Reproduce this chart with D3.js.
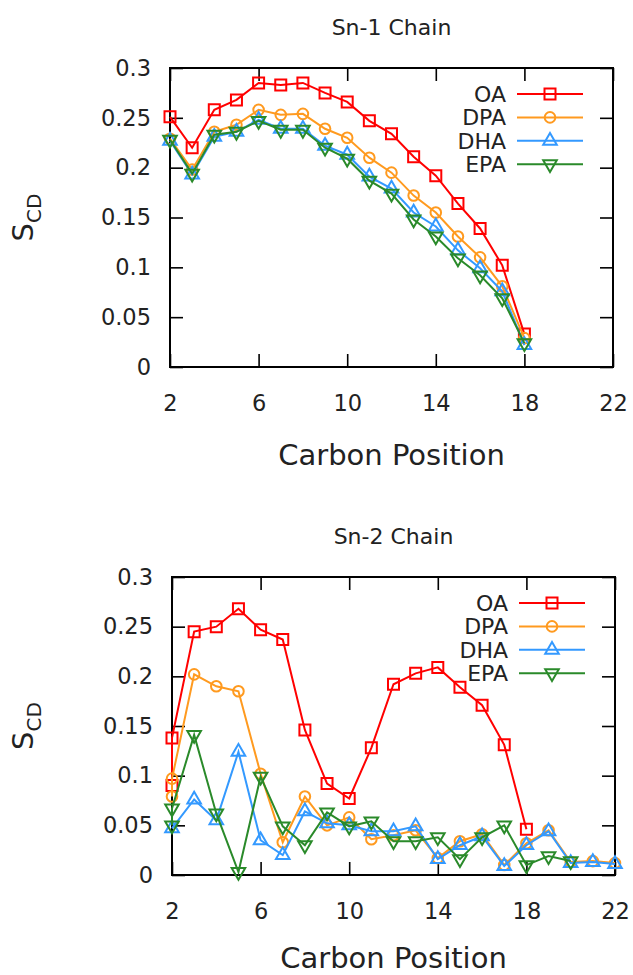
<!DOCTYPE html>
<html>
<head>
<meta charset="utf-8">
<script src="https://cdnjs.cloudflare.com/ajax/libs/d3/7.8.5/d3.min.js"></script>
<style>
body { margin: 0; background: #fff; }
svg text { font-family: "DejaVu Sans", sans-serif; fill: #222; }
</style>
</head>
<body>
<svg width="633" height="975"></svg>
<script>
var xTicks = [2, 6, 10, 14, 18, 22];
var yTicks = [0, 0.05, 0.1, 0.15, 0.2, 0.25, 0.3];
var names = ["OA", "DPA", "DHA", "EPA"];
var colors = ["#ff0000", "#ff9a1f", "#3399ff", "#2a8a2a"];
var shapes = ["square", "circle", "up", "down"];

// Sn-1 chain
var sn1X = [2, 3, 4, 5, 6, 7, 8, 9, 10, 11, 12, 13, 14, 15, 16, 17, 18];
var sn1OA  = [0.251, 0.220, 0.258, 0.268, 0.285, 0.283, 0.285, 0.275, 0.266, 0.247, 0.234, 0.211, 0.192, 0.164, 0.139, 0.102, 0.033];
var sn1DPA = [0.229, 0.198, 0.236, 0.243, 0.258, 0.253, 0.254, 0.239, 0.230, 0.210, 0.195, 0.172, 0.155, 0.131, 0.110, 0.081, 0.029];
var sn1DHA = [0.227, 0.193, 0.231, 0.236, 0.248, 0.239, 0.239, 0.222, 0.213, 0.191, 0.179, 0.155, 0.141, 0.117, 0.099, 0.076, 0.022];
var sn1EPA = [0.228, 0.194, 0.233, 0.236, 0.247, 0.238, 0.238, 0.220, 0.209, 0.187, 0.174, 0.148, 0.131, 0.109, 0.092, 0.069, 0.024];

// Sn-2 chain (carbon 2 has two hydrogens for some series)
var sn2OAx  = [2, 2, 3, 4, 5, 6, 7, 8, 9, 10, 11, 12, 13, 14, 15, 16, 17, 18];
var sn2OA   = [0.090, 0.138, 0.245, 0.250, 0.268, 0.247, 0.237, 0.146, 0.092, 0.077, 0.128, 0.192, 0.203, 0.209, 0.189, 0.171, 0.131, 0.046];
var sn2DPAx = [2, 2, 3, 4, 5, 6, 7, 8, 9, 10, 11, 12, 13, 14, 15, 16, 17, 18, 19, 20, 21, 22];
var sn2DPA  = [0.079, 0.097, 0.202, 0.190, 0.185, 0.102, 0.033, 0.079, 0.050, 0.058, 0.036, 0.040, 0.045, 0.017, 0.034, 0.041, 0.010, 0.032, 0.045, 0.013, 0.014, 0.012];
var sn2DHAx = [2, 3, 4, 5, 6, 7, 8, 9, 10, 11, 12, 13, 14, 15, 16, 17, 18, 19, 20, 21, 22];
var sn2DHA  = [0.047, 0.076, 0.055, 0.124, 0.035, 0.020, 0.064, 0.052, 0.050, 0.044, 0.044, 0.049, 0.016, 0.030, 0.039, 0.009, 0.030, 0.044, 0.012, 0.013, 0.011];
var sn2EPAx = [2, 2, 3, 4, 5, 6, 7, 8, 9, 10, 11, 12, 13, 14, 15, 16, 17, 18, 19, 20];
var sn2EPA  = [0.050, 0.067, 0.141, 0.062, 0.003, 0.099, 0.049, 0.030, 0.063, 0.049, 0.054, 0.034, 0.034, 0.038, 0.016, 0.038, 0.050, 0.010, 0.019, 0.014];

var svg = d3.select("svg");

function symbolPath(shape) {
    if (shape == "square") return d3.symbol().type(d3.symbolSquare).size(121)();
    if (shape == "circle") return d3.symbol().type(d3.symbolCircle).size(88)();
    return d3.symbol().type(d3.symbolTriangle).size(80)();
}

function drawPanel(left, top, plotH, title, labelGap, xs, ys) {
    var plotW = 443;
    var x = d3.scaleLinear().domain([2, 22]).range([left, left + plotW]);
    var y = d3.scaleLinear().domain([0, 0.3]).range([top + plotH, top]);
    var g = svg.append("g");

    g.append("g")
        .attr("transform", "translate(" + left + ",0)")
        .call(d3.axisLeft(y).tickValues(yTicks).tickSize(-13).tickSizeOuter(0).tickPadding(19).tickFormat(String));
    g.append("g")
        .attr("transform", "translate(" + (left + plotW) + ",0)")
        .call(d3.axisRight(y).tickValues(yTicks).tickSize(-13).tickSizeOuter(0).tickFormat(""));
    g.append("g")
        .attr("transform", "translate(0," + (top + plotH) + ")")
        .call(d3.axisBottom(x).tickValues(xTicks).tickSize(-13).tickSizeOuter(0).tickPadding(28).tickFormat(String));
    g.append("g")
        .attr("transform", "translate(0," + top + ")")
        .call(d3.axisTop(x).tickValues(xTicks).tickSize(-13).tickSizeOuter(0).tickFormat(""));
    g.selectAll(".domain").remove();
    g.selectAll(".tick line").attr("stroke", "#000").attr("stroke-width", 1.6);
    g.selectAll(".tick text").attr("font-size", 22.5).attr("font-family", "DejaVu Sans");

    g.append("rect")
        .attr("x", left).attr("y", top)
        .attr("width", plotW).attr("height", plotH)
        .attr("fill", "none").attr("stroke", "#000").attr("stroke-width", 2);

    g.append("text")
        .attr("x", left + plotW / 2).attr("y", top - 33)
        .attr("text-anchor", "middle").attr("font-size", 22)
        .text(title);

    g.append("text")
        .attr("x", left + plotW / 2).attr("y", top + plotH + labelGap)
        .attr("text-anchor", "middle").attr("font-size", 29)
        .text("Carbon Position");

    var yl = g.append("text")
        .attr("transform", "translate(33," + (top + plotH / 2) + ") rotate(-90)")
        .attr("text-anchor", "middle").attr("font-size", 29);
    yl.append("tspan").text("S");
    yl.append("tspan").attr("font-size", 20).attr("dy", 8).text("CD");

    var line = d3.line()
        .x(function(d) { return x(d[0]); })
        .y(function(d) { return y(d[1]); });

    names.forEach(function(name, i) {
        var pts = xs[i].map(function(c, j) { return [c, ys[i][j]]; });
        var sg = g.append("g").attr("class", "series-" + name);
        sg.append("path")
            .datum(pts)
            .attr("d", line)
            .attr("fill", "none")
            .attr("stroke", colors[i])
            .attr("stroke-width", 2);
        sg.selectAll(".pt")
            .data(pts)
            .enter().append("path")
            .attr("class", "pt")
            .attr("d", symbolPath(shapes[i]))
            .attr("transform", function(d) {
                return "translate(" + x(d[0]) + "," + y(d[1]) + ")" + (shapes[i] == "down" ? " rotate(180)" : "");
            })
            .attr("fill", "none")
            .attr("stroke", colors[i])
            .attr("stroke-width", 2);

        var ly = top + 26 + i * 23.4;
        var lg = g.append("g").attr("class", "legend");
        lg.append("text")
            .attr("x", left + 336).attr("y", ly).attr("dy", "0.35em")
            .attr("text-anchor", "end").attr("font-size", 22)
            .text(name);
        lg.append("line")
            .attr("x1", left + 347).attr("x2", left + 413)
            .attr("y1", ly).attr("y2", ly)
            .attr("stroke", colors[i]).attr("stroke-width", 2);
        lg.append("path")
            .attr("d", symbolPath(shapes[i]))
            .attr("transform", "translate(" + (left + 380) + "," + ly + ")" + (shapes[i] == "down" ? " rotate(180)" : ""))
            .attr("fill", "none")
            .attr("stroke", colors[i])
            .attr("stroke-width", 2);
    });
}

drawPanel(170, 68, 299, "Sn-1 Chain", 98,
    [sn1X, sn1X, sn1X, sn1X],
    [sn1OA, sn1DPA, sn1DHA, sn1EPA]);

drawPanel(172, 577, 298, "Sn-2 Chain", 93,
    [sn2OAx, sn2DPAx, sn2DHAx, sn2EPAx],
    [sn2OA, sn2DPA, sn2DHA, sn2EPA]);
</script>
</body>
</html>
